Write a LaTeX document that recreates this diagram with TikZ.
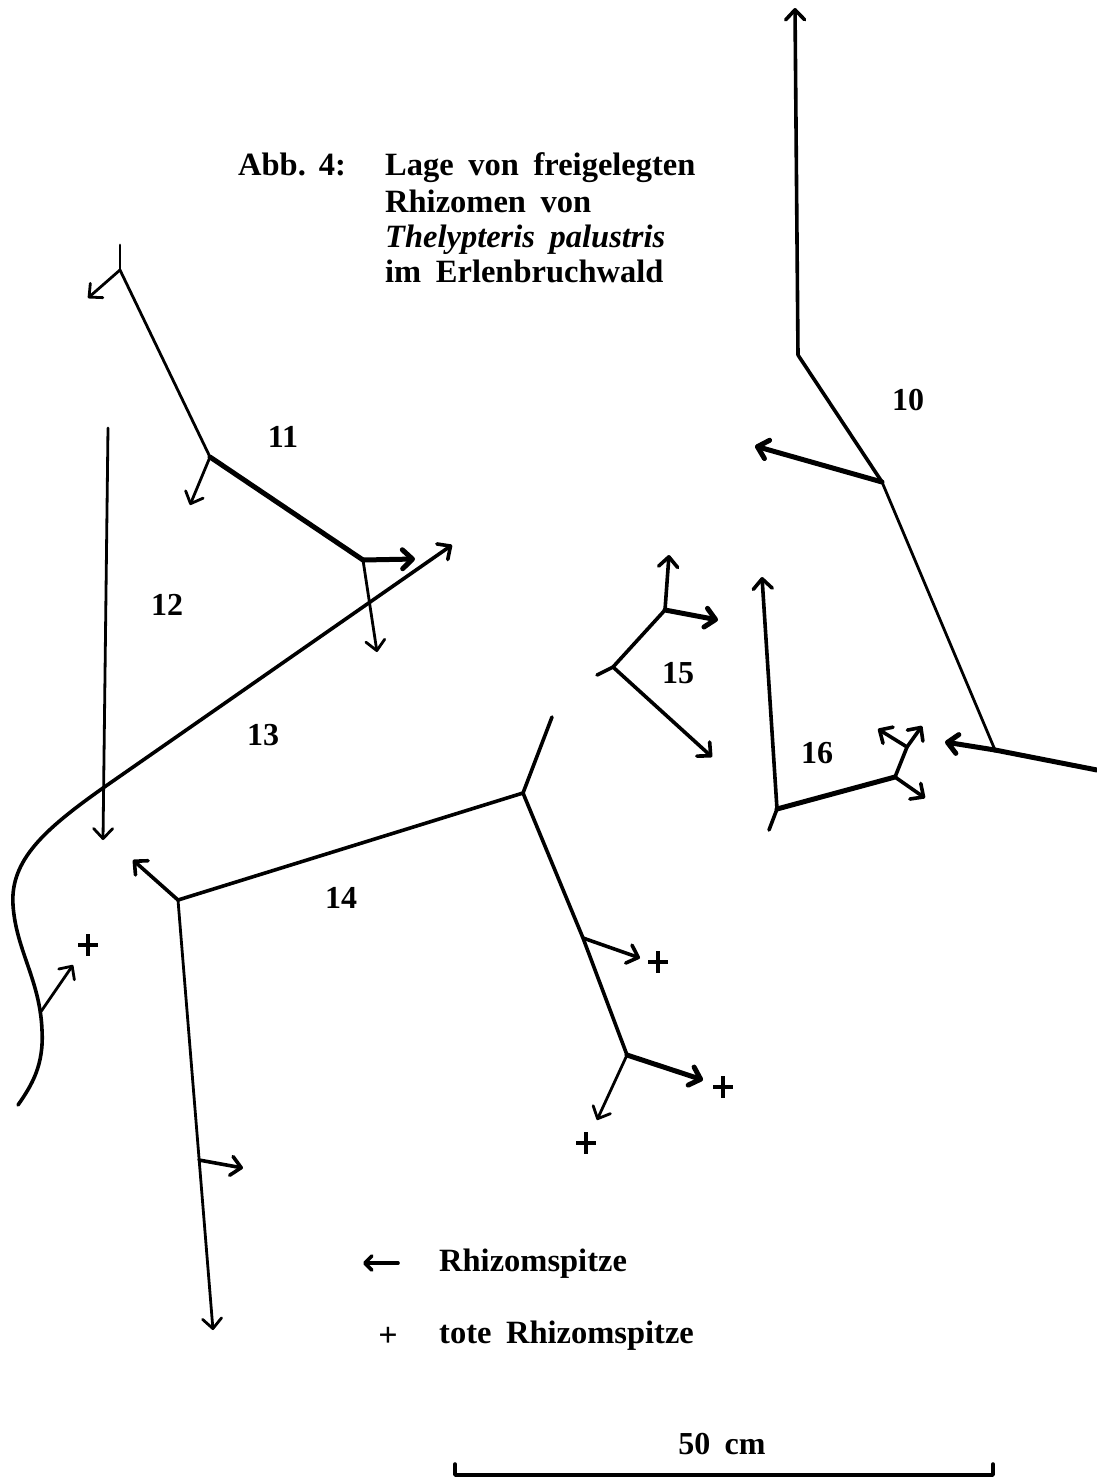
\documentclass[tikz,border=0pt]{standalone}
\usepackage{fontspec}
\setmainfont{Liberation Serif}
\usetikzlibrary{arrows.meta,calc}
\begin{document}
\begin{tikzpicture}[x=1pt,y=-1pt,
  rh/.style={line width=2.8pt, line cap=round, line join=round},
  rhmid/.style={line width=3.6pt, line cap=round, line join=round},
  rhthick/.style={line width=5pt, line cap=round, line join=round},
  tipped/.style={-{Straight Barb[length=10pt,width=19pt,round]}},
  lbl/.style={font=\bfseries\fontsize{32}{36}\selectfont, inner sep=0pt},
  ttl/.style={font=\bfseries\fontsize{32.5}{36}\selectfont, inner sep=0pt, anchor=base west},
  deadtip/.pic={\draw[line width=3.6pt] (-10,0)--(10,0) (0,-11)--(0,11);}
]
\useasboundingbox[fill=white] (0,0) rectangle (1097,1478);

% ---------- title ----------
\node[ttl] (abb) at (238,175) {Abb.\hspace{0.4em}4:};
\node[ttl] (t1) at (385,175) {Lage\hspace{0.45em}von\hspace{0.45em}freigelegten};
\node[ttl] (t2) at (385,212) {Rhizomen\hspace{0.45em}von};
\node[ttl] (t3) at (385,247) {\itshape Thelypteris\hspace{0.45em}palustris};
\node[ttl] (t4) at (385,282) {im\hspace{0.45em}Erlenbruchwald};

% ---------- rhizome 10 ----------
\coordinate (t10) at (795,8);
\coordinate (b10) at (798,355);
\coordinate (j10a) at (882,482);
\coordinate (a10a) at (755,446);
\coordinate (j10b) at (995,750);
\coordinate (e10) at (1097,770);
\coordinate (a10b) at (945,742);
\draw[rhmid,tipped] (b10) -- (t10);
\draw[rhmid] (b10) -- (j10a);
\draw[rh] (j10a) -- (j10b);
\draw[rhthick,tipped] (j10a) -- (a10a);
\draw[rhthick] (j10b) -- (e10);
\draw[rhthick,tipped] (j10b) -- (a10b);
\node[lbl] (n10) at (908,400) {10};

% ---------- rhizome 11 ----------
\coordinate (s11) at (120,245);
\coordinate (j11a) at (120,270);
\coordinate (a11a) at (88,298);
\coordinate (j11b) at (210,457);
\coordinate (a11b) at (190,505);
\coordinate (j11c) at (363,560);
\coordinate (a11c) at (415,559);
\coordinate (a11d) at (377,652);
\draw[rh] (s11) -- (j11a);
\draw[rh,tipped] (j11a) -- (a11a);
\draw[rh] (j11a) -- (j11b);
\draw[rh,tipped] (j11b) -- (a11b);
\draw[rhthick] (j11b) -- (j11c);
\draw[rhthick,tipped] (j11c) -- (a11c);
\draw[rh,tipped] (j11c) -- (a11d);
\node[lbl] (n11) at (283,437) {11};

% ---------- rhizome 12 ----------
\coordinate (s12) at (108,428);
\coordinate (a12) at (103,840);
\draw[rh,tipped] (s12) -- (a12);
\node[lbl] (n12) at (167,605) {12};

% ---------- rhizome 13 ----------
\coordinate (a13) at (452,545);
\coordinate (c13) at (103,788);
\coordinate (k13) at (40,1013);
\coordinate (a13b) at (73,965);
\coordinate (e13) at (18,1105);
\draw[rhmid,tipped] (c13) -- (a13);
\draw[rhmid] (c13) .. controls (45,829) and (10,860) .. (13,905)
               .. controls (16,950) and (40,980) .. (42,1030)
               .. controls (44,1065) and (32,1085) .. (e13);
\draw[rh,tipped] (k13) -- (a13b);
\pic at (88,945) {deadtip};
\node[lbl] (n13) at (263,735) {13};

% ---------- rhizome 14 ----------
\coordinate (j14a) at (178,900);
\coordinate (a14a) at (133,860);
\coordinate (j14b) at (523,793);
\coordinate (s14) at (552,717);
\coordinate (j14c) at (583,938);
\coordinate (a14c) at (640,958);
\coordinate (j14d) at (627,1055);
\coordinate (a14d) at (703,1080);
\coordinate (a14e) at (597,1120);
\coordinate (a14f) at (213,1330);
\coordinate (j14e) at (199,1160);
\coordinate (a14g) at (243,1168);
\draw[rhmid,tipped] (j14a) -- (a14a);
\draw[rhmid] (j14a) -- (j14b);
\draw[rhmid] (j14b) -- (s14);
\draw[rhmid] (j14b) -- (j14c) -- (j14d);
\draw[rhmid,tipped] (j14c) -- (a14c);
\draw[rhthick,tipped] (j14d) -- (a14d);
\draw[rh,tipped] (j14d) -- (a14e);
\draw[rh,tipped] (j14a) -- (a14f);
\draw[rhmid,tipped] (j14e) -- (a14g);
\pic at (658,962) {deadtip};
\pic at (723,1087) {deadtip};
\pic at (586,1143) {deadtip};
\node[lbl] (n14) at (341,898) {14};

% ---------- rhizome 15 ----------
\coordinate (j15a) at (665,610);
\coordinate (a15a) at (669,555);
\coordinate (a15b) at (718,620);
\coordinate (j15b) at (613,667);
\coordinate (s15) at (597,675);
\coordinate (a15c) at (712,757);
\draw[rhmid,tipped] (j15a) -- (a15a);
\draw[rhthick,tipped] (j15a) -- (a15b);
\draw[rhmid] (j15a) -- (j15b) -- (s15);
\draw[rhmid,tipped] (j15b) -- (a15c);
\node[lbl] (n15) at (678,673) {15};

% ---------- rhizome 16 ----------
\coordinate (a16) at (762,577);
\coordinate (j16a) at (777,809);
\coordinate (s16) at (769,830);
\coordinate (j16b) at (895,777);
\coordinate (j16c) at (907,747);
\coordinate (a16a) at (925,798);
\coordinate (a16b) at (878,729);
\coordinate (a16c) at (922,726);
\draw[rhmid,tipped] (j16a) -- (a16);
\draw[rhmid] (j16a) -- (s16);
\draw[rhthick] (j16a) -- (j16b);
\draw[rhmid] (j16b) -- (j16c);
\draw[rhmid,tipped] (j16b) -- (a16a);
\draw[rhmid,tipped] (j16c) -- (a16b);
\draw[rhmid,tipped] (j16c) -- (a16c);
\node[lbl] (n16) at (817,753) {16};

% ---------- legend ----------
\coordinate (lg1) at (398,1263);
\coordinate (lg0) at (363,1263);
\draw[rhmid,-{Straight Barb[length=7pt,width=14pt,round]}] (lg1) -- (lg0);
\node[ttl] (leg1) at (439,1271) {Rhizomspitze};
\node[font=\bfseries\fontsize{34}{36}\selectfont, inner sep=0pt] (legp) at (388,1337) {+};
\node[ttl] (leg2) at (439,1343) {tote\hspace{0.45em}Rhizomspitze};

% ---------- scale bar ----------
\node[lbl, anchor=base] (scl) at (722,1454) {50\hspace{0.45em}cm};
\coordinate (sb0) at (455,1475);
\coordinate (sb1) at (993,1475);
\draw[rhmid] ($(sb0)+(0,-11)$) -- (sb0) -- (sb1) -- ($(sb1)+(0,-11)$);
\end{tikzpicture}
\end{document}
